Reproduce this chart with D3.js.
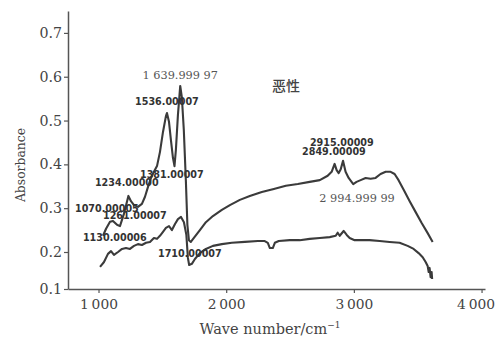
<!DOCTYPE html>
<html>
<head>
<meta charset="utf-8">
<script src="https://cdn.jsdelivr.net/npm/d3@7"></script>
<style>
  html, body { margin: 0; padding: 0; background: #fff; }
  svg { display: block; }
</style>
</head>
<body>
<svg id="chart" width="496" height="342"></svg>
<script>
// Infrared absorbance spectrum, two traces (wave number in cm^-1, absorbance)
const upperWave = [1035,1059,1090,1113,1145,1168,1199,1234,1254,1278,1309,1340,1364,1387,1411,1434,1458,1481,1505,1528,1536,1552,1567,1583,1595,1606,1622,1640,1653,1668,1684,1696,1708,1723,1747,1794,1841,1896,1966,2029,2107,2185,2279,2373,2467,2561,2654,2733,2795,2826,2849,2865,2881,2897,2915,2935,2959,2982,2995,3021,3053,3092,3131,3170,3209,3249,3288,3319,3350,3390,3437,3484,3531,3578,3617];
const upperAbs  = [0.237,0.253,0.269,0.271,0.262,0.259,0.287,0.328,0.316,0.307,0.303,0.310,0.326,0.348,0.369,0.383,0.396,0.428,0.474,0.510,0.517,0.497,0.456,0.415,0.396,0.433,0.513,0.579,0.552,0.479,0.364,0.262,0.227,0.223,0.232,0.250,0.268,0.282,0.296,0.307,0.319,0.328,0.337,0.344,0.351,0.355,0.360,0.364,0.374,0.383,0.401,0.387,0.380,0.389,0.408,0.383,0.369,0.360,0.355,0.360,0.364,0.369,0.367,0.369,0.378,0.383,0.383,0.378,0.364,0.342,0.316,0.291,0.266,0.243,0.223];

const lowerWave = [1012,1043,1074,1098,1121,1153,1184,1215,1246,1278,1309,1340,1372,1403,1434,1458,1481,1505,1528,1552,1575,1599,1622,1646,1669,1688,1700,1710,1731,1755,1794,1841,1896,1966,2044,2146,2248,2302,2326,2342,2365,2381,2412,2498,2576,2654,2733,2811,2858,2873,2889,2920,2944,2967,3006,3061,3123,3202,3280,3358,3421,3468,3507,3539,3562,3578,3586,3593,3601,3609,3613];
const lowerAbs  = [0.160,0.173,0.195,0.202,0.192,0.200,0.207,0.209,0.207,0.214,0.218,0.216,0.221,0.223,0.232,0.230,0.237,0.246,0.255,0.259,0.250,0.264,0.275,0.280,0.268,0.239,0.184,0.165,0.168,0.181,0.197,0.207,0.214,0.218,0.221,0.223,0.225,0.225,0.221,0.209,0.209,0.221,0.225,0.227,0.227,0.230,0.232,0.234,0.237,0.244,0.237,0.248,0.239,0.232,0.227,0.227,0.227,0.225,0.223,0.221,0.214,0.207,0.197,0.186,0.173,0.162,0.146,0.157,0.132,0.146,0.127];

const xTicks = [1000, 2000, 3000, 4000];
const yTicks = [0.1, 0.2, 0.3, 0.4, 0.5, 0.6, 0.7];

// Peak annotations: text and the (wave number, absorbance) point where it sits
const bigLabels   = ["1 639.999 97", "2 994.999 99"];
const bigLabelWn  = [1640, 3025];
const bigLabelAbs = [0.604, 0.324];

const peakLabels   = ["1536.00007","1381.00007","1234.00000","1070.00005","1261.00007","1130.00006","1710.00007","2915.00009","2849.00009"];
const peakLabelWn  = [1286, 1325, 972, 816, 1035, 878, 1466, 2656, 2594];
const peakLabelAbs = [0.543, 0.376, 0.359, 0.300, 0.284, 0.232, 0.197, 0.449, 0.430];

const sampleName = "恶性";
const sampleWn = 2359, sampleAbs = 0.579;

const svg = d3.select("#chart");
const ink = "#3b3b3b";
const axisInk = "#555";
const W = 496;

const x = d3.scaleLinear().domain([761, 4027]).range([68, 485]);
const y = d3.scaleLinear().domain([0.1, 0.2, 0.75]).range([289, 252, 11]);

// axes
const yAxis = svg.append("g").attr("transform", "translate(68,0)")
  .call(d3.axisLeft(y).tickValues(yTicks).tickSize(4).tickSizeOuter(0).tickPadding(2)
        .tickFormat(d3.format(".1f")));
const xAxis = svg.append("g").attr("transform", "translate(0,289)")
  .call(d3.axisBottom(x).tickValues(xTicks).tickSize(4).tickSizeOuter(0).tickPadding(6)
        .tickFormat(d => d3.format(",")(d).replace(",", "\u2009")));

[yAxis, xAxis].forEach(g => {
  g.selectAll("path.domain").attr("stroke", axisInk).attr("stroke-width", 1.5);
  g.selectAll(".tick line").attr("stroke", axisInk).attr("stroke-width", 1.2);
  g.selectAll(".tick text")
    .attr("fill", "#444")
    .attr("font-family", "'DejaVu Serif', serif")
    .attr("font-size", 14.2);
});
xAxis.selectAll(".tick text").attr("font-size", 13.8);

// keep the right-most tick label inside the canvas
xAxis.selectAll(".tick").each(function () {
  const tick = d3.select(this);
  const t = tick.select("text").node();
  const ctm = this.getCTM();
  const box = t.getBBox();
  const right = ctm.e + box.x + box.width;
  if (right > W - 1) tick.select("text").attr("dx", (W - 1 - right).toFixed(1));
});

// axis titles
svg.append("text")
  .attr("transform", "translate(25," + 165 + ") rotate(-90)")
  .attr("text-anchor", "middle")
  .attr("fill", "#444")
  .attr("font-family", "'DejaVu Serif', serif")
  .attr("font-size", 12.4)
  .text("Absorbance");

const xt = svg.append("text")
  .attr("x", 270).attr("y", 334)
  .attr("text-anchor", "middle")
  .attr("fill", "#444")
  .attr("font-family", "'DejaVu Serif', serif")
  .attr("font-size", 14.5);
xt.append("tspan").text("Wave number/cm");
xt.append("tspan").attr("dy", -6).attr("font-size", 9).text("−1");

// spectra
const line = d3.line().x(d => x(d[0])).y(d => y(d[1]));
[[upperWave, upperAbs], [lowerWave, lowerAbs]].forEach(([w, a]) => {
  svg.append("path")
    .datum(d3.zip(w, a))
    .attr("d", line)
    .attr("fill", "none")
    .attr("stroke", ink)
    .attr("stroke-width", 2.1)
    .attr("stroke-linejoin", "round");
});

// annotations
svg.append("g").selectAll("text")
  .data(d3.range(peakLabels.length))
  .join("text")
  .attr("x", i => x(peakLabelWn[i]))
  .attr("y", i => y(peakLabelAbs[i]))
  .attr("dy", "0.36em")
  .attr("fill", "#333")
  .attr("font-family", "'DejaVu Sans', sans-serif")
  .attr("font-weight", "bold")
  .attr("font-size", 9.6)
  .text(i => peakLabels[i]);

svg.append("g").selectAll("text")
  .data(d3.range(bigLabels.length))
  .join("text")
  .attr("x", i => x(bigLabelWn[i]))
  .attr("y", i => y(bigLabelAbs[i]))
  .attr("dy", "0.36em")
  .attr("text-anchor", "middle")
  .attr("fill", "#555")
  .attr("font-family", "'DejaVu Serif', serif")
  .attr("font-size", 11.3)
  .text(i => bigLabels[i]);

svg.append("text")
  .attr("x", x(sampleWn)).attr("y", y(sampleAbs))
  .attr("dy", "0.36em")
  .attr("fill", "#444")
  .attr("font-family", "'Noto Sans CJK SC', sans-serif")
  .attr("font-weight", 500)
  .attr("font-size", 14)
  .text(sampleName);
</script>
</body>
</html>
